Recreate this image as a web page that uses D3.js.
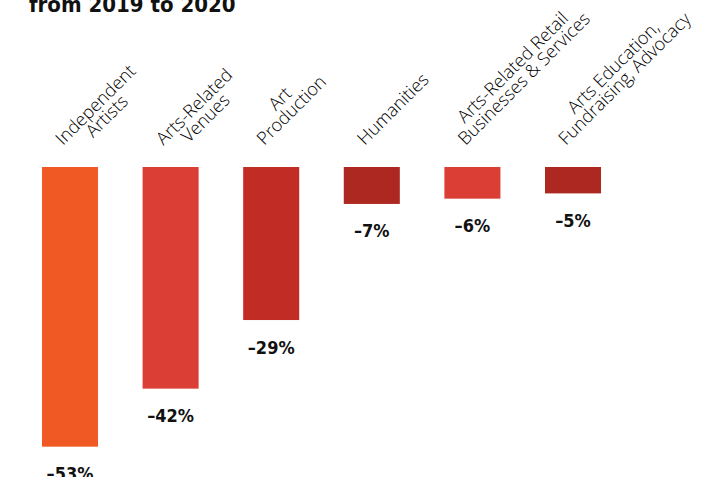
<!DOCTYPE html>
<html lang="en">
  <head>
    <meta charset="UTF-8" />
    <script src="https://d3js.org/d3.v7.min.js"></script>
    <title>Arts employment change</title>
    <style type="text/css">
      body {
        margin: 0;
        background: #fff;
      }
      .title {
        font-family: 'DejaVu Sans Condensed', 'DejaVu Sans', sans-serif;
        font-weight: bold;
        font-size: 22px;
        fill: #111;
      }
      .cat-label {
        font-family: 'Open Sans', sans-serif;
        font-weight: 300;
        font-size: 18px;
        fill: #000;
      }
      .value-label {
        font-family: 'DejaVu Sans Condensed', 'DejaVu Sans', sans-serif;
        font-weight: bold;
        font-size: 18px;
        fill: #111;
      }
    </style>
  </head>
  <body>
    <svg width="718" height="477"></svg>
  </body>
  <script type="text/javascript">
    // data
    const categories = [
      'Independent\nArtists',
      'Arts-Related\nVenues',
      'Art\nProduction',
      'Humanities',
      'Arts-Related Retail\nBusinesses & Services',
      'Arts Education,\nFundraising, Advocacy',
    ];
    const changes = [-53, -42, -29, -7, -6, -5];
    const barColors = ['#F05824', '#DB3E35', '#C12C24', '#AD2821', '#DB3E35', '#AD2821'];

    const width = 718;
    const height = 477;
    const baseY = 167;

    const svg = d3.select('svg').attr('width', width).attr('height', height);

    // title (first line sits above the visible area)
    svg.append('text').attr('class', 'title').attr('x', 29).attr('y', 12).text('from 2019 to 2020');

    // x scale
    const xScale = d3.scaleBand().domain(categories).range([19.7, 623.3]).paddingInner(0.443).paddingOuter(0.2215);

    // y scale (bars hang down from the baseline)
    const yScale = d3.scaleLinear().domain([0, -60]).range([baseY, baseY + 60 * 5.277]);

    const data = categories.map((c, i) => ({ cat: c, value: changes[i], color: barColors[i] }));

    // bars
    svg
      .append('g')
      .selectAll('rect')
      .data(data)
      .enter()
      .append('rect')
      .attr('x', (d) => xScale(d.cat))
      .attr('y', yScale(0))
      .attr('width', xScale.bandwidth())
      .attr('height', (d) => yScale(d.value) - yScale(0))
      .attr('fill', (d) => d.color);

    // value labels
    svg
      .append('g')
      .selectAll('text')
      .data(data)
      .enter()
      .append('text')
      .attr('class', 'value-label')
      .attr('text-anchor', 'middle')
      .attr('x', (d) => xScale(d.cat) + xScale.bandwidth() / 2)
      .attr('y', (d) => yScale(d.value) + 33.5)
      .text((d) => `–${Math.abs(d.value)}%`);

    // rotated category labels, lines centered on each other
    const lineH = 16;
    const c45 = Math.SQRT1_2;
    svg
      .append('g')
      .selectAll('g')
      .data(data)
      .enter()
      .append('g')
      .each(function (d) {
        const g = d3.select(this);
        const text = g.append('text').attr('class', 'cat-label').attr('text-anchor', 'middle');
        const lines = d.cat.split('\n');
        const spans = lines.map((l, i) => text.append('tspan').attr('x', 0).attr('y', i * lineH).text(l));
        const widths = spans.map((s) => s.node().getComputedTextLength());
        const maxW = d3.max(widths);
        spans.forEach((s) => s.attr('x', maxW / 2));
        // find the line whose start sits lowest on screen
        let best = null;
        widths.forEach((w, i) => {
          const u = (maxW - w) / 2;
          const v = i * lineH;
          const sx = c45 * (u + v);
          const sy = c45 * (v - u);
          if (!best || sy > best.sy) best = { sx, sy };
        });
        const cx = xScale(d.cat) + xScale.bandwidth() / 2;
        text.attr('transform', 'rotate(-45)');
        g.attr('transform', `translate(${cx - 7 - best.sx}, ${146 - best.sy})`);
      });
  </script>
</html>
